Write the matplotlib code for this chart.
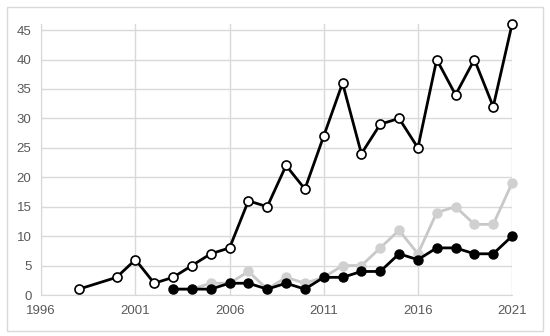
import matplotlib.pyplot as plt
from matplotlib.patches import Rectangle

years_a = [1998, 2000, 2001, 2002, 2003, 2004, 2005, 2006, 2007, 2008, 2009, 2010,
           2011, 2012, 2013, 2014, 2015, 2016, 2017, 2018, 2019, 2020, 2021]
total = [1, 3, 6, 2, 3, 5, 7, 8, 16, 15, 22, 18, 27, 36, 24, 29, 30, 25, 40, 34, 40, 32, 46]

years_b = list(range(2003, 2022))
gray_series = [1, 1, 2, 2, 4, 1, 3, 2, 3, 5, 5, 8, 11, 7, 14, 15, 12, 12, 19]
black_series = [1, 1, 1, 2, 2, 1, 2, 1, 3, 3, 4, 4, 7, 6, 8, 8, 7, 7, 10]

xticks = [1996, 2001, 2006, 2011, 2016, 2021]
yticks = list(range(0, 50, 5))

plt.rcParams['font.family'] = ['Liberation Sans', 'DejaVu Sans']
fig = plt.figure(figsize=(5.5, 3.36), dpi=100)
fig.patches.append(Rectangle((0.012, 0.015), 0.976, 0.965, transform=fig.transFigure,
                             fill=False, edgecolor='#d9d9d9', linewidth=1))
ax = fig.add_axes([0.075, 0.122, 0.856, 0.806])

grid_c = '#d9d9d9'
ax.plot(years_b, gray_series, color='#c8c8c8', lw=2, marker='o', ms=6.5,
        mfc='#d0d0d0', mec='#d0d0d0', zorder=3, clip_on=False)
ax.plot(years_b, black_series, color='black', lw=2, marker='o', ms=6.5,
        mfc='black', mec='black', zorder=4, clip_on=False)
ax.plot(years_a, total, color='black', lw=2, marker='o', ms=6.5,
        mfc='white', mec='black', mew=1.2, zorder=5, clip_on=False)

ax.set_xlim(1996, 2021)
ax.set_ylim(0, 46)
ax.set_xticks(xticks)
ax.set_yticks(yticks)
ax.grid(True, color=grid_c, lw=1)
ax.set_axisbelow(True)
for s in ['top', 'right']:
    ax.spines[s].set_visible(False)
for s in ['left', 'bottom']:
    ax.spines[s].set_color(grid_c)
ax.tick_params(length=0, labelsize=9.5, colors='#595959', pad=7)

fig.savefig('out.png', dpi=100)
